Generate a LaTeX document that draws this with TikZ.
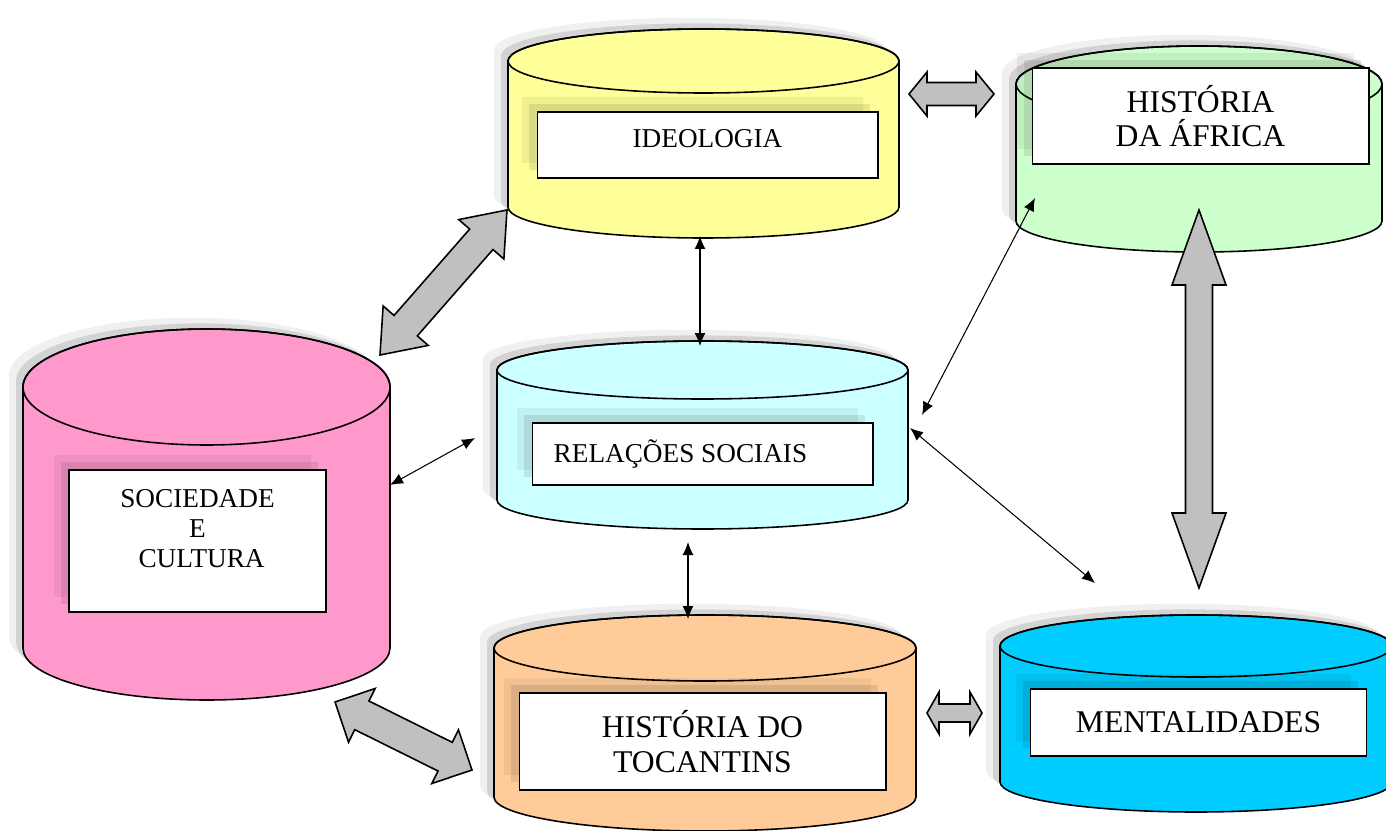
\documentclass[tikz,border=0pt]{standalone}
\usepackage{fontspec}
\setmainfont{Liberation Serif}
\usetikzlibrary{calc, positioning, arrows.meta, shadows}

\definecolor{amarelo}{HTML}{FFFF99}
\definecolor{verde}{HTML}{CCFFCC}
\definecolor{rosa}{HTML}{FF99CC}
\definecolor{ciano}{HTML}{CCFFFF}
\definecolor{laranja}{HTML}{FFCC99}
\definecolor{azul}{HTML}{00CCFF}
\definecolor{cinza}{HTML}{C0C0C0}

\tikzset{
	tampa/.style={draw=black, line width=0.9pt},
	caixa/.style={draw, line width=0.6pt, fill=white, inner sep=0pt,
		general shadow={fill=black, opacity=0.06, shadow xshift=-0.3cm, shadow yshift=0.3cm},
		general shadow={fill=black, opacity=0.09, shadow xshift=-0.16cm, shadow yshift=0.16cm}},
	pequeno/.style={font=\fontsize{15.5}{17}\selectfont, align=center},
	grande/.style={font=\fontsize{18}{19.5}\selectfont, align=center},
	setafina/.style={{Latex[length=0.26cm, width=0.22cm]}-{Latex[length=0.26cm, width=0.22cm]}, line width=0.6pt},
	setagrossa/.style={draw=black, fill=cinza, line width=0.9pt, line join=miter}
}

% cilindro: nome, x esq., x dir., y topo, raio topo, y base, raio base, cor
\newcommand{\tambor}[8]{%
	\pgfmathsetmacro{\raiox}{(#3-#2)/2}
	\foreach \d/\o in {-14/0.06, -7/0.12}
		\fill[black, opacity=\o, shift={(\d,\d*0.8)}] (#2,#4) -- (#2,#6)
			arc[start angle=180, end angle=0, x radius=\raiox, y radius=#7] -- (#3,#4)
			arc[start angle=0, end angle=-180, x radius=\raiox, y radius=#5] -- cycle;
	\filldraw[tampa, fill=#8] (#2,#4) -- (#2,#6)
		arc[start angle=180, end angle=0, x radius=\raiox, y radius=#7] -- (#3,#4)
		arc[start angle=0, end angle=-180, x radius=\raiox, y radius=#5] -- cycle;
	\draw[tampa] ({(#2+#3)/2},#4) ellipse [x radius=\raiox, y radius=#5];
	\coordinate (#1) at ({(#2+#3)/2},{(#4+#6)/2});
}

% seta dupla larga: de, para, meia largura do corpo, meia largura da ponta, comprimento da ponta
\newcommand{\setadupla}[5]{%
	\coordinate (pa) at ($(#1)!#5!(#2)$);
	\coordinate (pb) at ($(#2)!#5!(#1)$);
	\path[setagrossa] (#1) -- ($(pa)!#4!90:(#2)$) -- ($(pa)!#3!90:(#2)$)
		-- ($(pb)!#3!-90:(#1)$) -- ($(pb)!#4!-90:(#1)$) -- (#2)
		-- ($(pb)!#4!90:(#1)$) -- ($(pb)!#3!90:(#1)$)
		-- ($(pa)!#3!-90:(#2)$) -- ($(pa)!#4!-90:(#2)$) -- cycle;
}

\begin{document}
\begin{tikzpicture}[x=0.02cm, y=-0.02cm]
	\useasboundingbox (0,0) rectangle (1386,831);
	\clip (0,0) rectangle (1386,831);

	% cilindros
	\tambor{cil-ideo}{508}{899}{61}{32}{207}{31}{amarelo}
	\tambor{cil-afr}{1016}{1382}{84}{38}{221}{31}{verde}
	\tambor{cil-soc}{23}{390}{387}{58}{648}{52}{rosa}
	\tambor{cil-rel}{497}{908}{370}{29}{500}{29}{ciano}
	\tambor{cil-toc}{494}{916}{648}{33}{797}{34}{laranja}
	\tambor{cil-ment}{1000}{1392}{646}{31}{782}{30}{azul}

	% caixas
	\node[caixa, minimum width=6.82cm, minimum height=1.32cm] (ideologia) at (707.5,145) {};
	\node[pequeno] (ideo-texto) at ([yshift=0.12cm]ideologia.center) {IDEOLOGIA};
	\node[caixa, grande, minimum width=6.74cm, minimum height=1.92cm] (africa) at (1200.5,116) {HISTÓRIA\\DA ÁFRICA};
	\node[caixa, minimum width=5.14cm, minimum height=2.84cm] (sociedade) at (197.5,541) {};
	\node[pequeno, below=0.28cm of sociedade.north] (soc-texto) {SOCIEDADE\\E\\\hspace*{0.3em}CULTURA};
	\node[caixa, minimum width=6.82cm, minimum height=1.24cm] (relacoes) at (702.5,454) {};
	\node[pequeno, right=0.32cm of relacoes.west] (rel-texto) {RELAÇÕES SOCIAIS};
	\node[caixa, grande, minimum width=7.34cm, minimum height=1.94cm] (tocantins) at (702.5,741.5) {HISTÓRIA DO\\TOCANTINS};
	\node[caixa, grande, minimum width=6.72cm, minimum height=1.34cm] (mentalidades) at (1198.5,722.5) {MENTALIDADES};

	% pontas das setas
	\coordinate (ideo-s) at (700,236);
	\coordinate (rel-n) at (700,346);
	\coordinate (soc-e) at (390,485);
	\coordinate (rel-w) at (475,438);
	\coordinate (rel-s) at (688,542);
	\coordinate (toc-n) at (688,619);
	\coordinate (rel-ne) at (922,415);
	\coordinate (afr-sw) at (1035,198);
	\coordinate (rel-e) at (910,428);
	\coordinate (ment-nw) at (1095,583);

	\coordinate (ideo-sw) at (507,210);
	\coordinate (soc-ne) at (380,355);
	\coordinate (soc-se) at (335,702);
	\coordinate (toc-w) at (472,770);
	\coordinate (ideo-e) at (909,94);
	\coordinate (afr-w) at (994,94);
	\coordinate (toc-e) at (927,713);
	\coordinate (ment-w) at (982,713);
	\coordinate (afr-s) at (1199,210);
	\coordinate (ment-n) at (1199,588);

	% setas largas
	\setadupla{soc-ne}{ideo-sw}{0.31cm}{0.6cm}{0.78cm}
	\setadupla{soc-se}{toc-w}{0.32cm}{0.6cm}{0.6cm}
	\setadupla{ideo-e}{afr-w}{0.23cm}{0.44cm}{0.36cm}
	\setadupla{toc-e}{ment-w}{0.18cm}{0.42cm}{0.24cm}
	\setadupla{afr-s}{ment-n}{0.27cm}{0.54cm}{1.5cm}

	% setas finas
	\draw[setafina] (ideo-s) -- (rel-n);
	\draw[setafina] (soc-e) -- (rel-w);
	\draw[setafina] (rel-s) -- (toc-n);
	\draw[setafina] (rel-ne) -- (afr-sw);
	\draw[setafina] (rel-e) -- (ment-nw);
\end{tikzpicture}
\end{document}
